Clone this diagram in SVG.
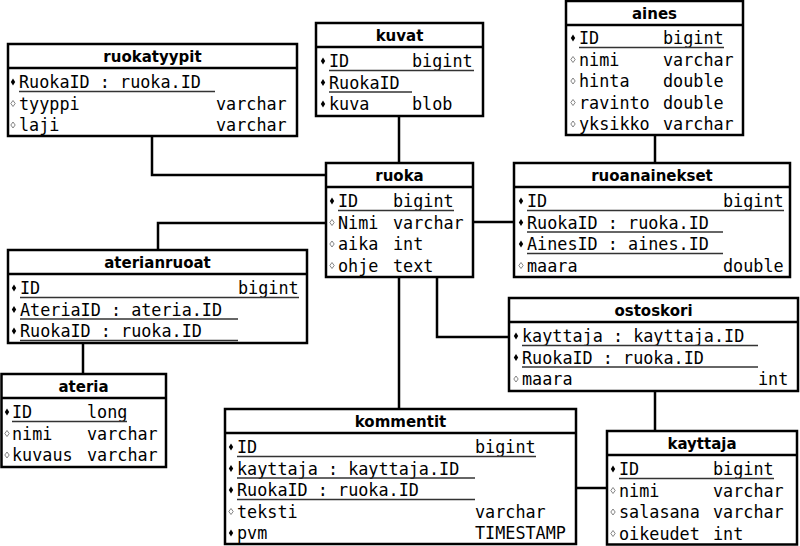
<svg xmlns="http://www.w3.org/2000/svg" xmlns:xlink="http://www.w3.org/1999/xlink" width="800" height="546" viewBox="0 0 800 546">
<style>
.box{fill:#fff;stroke:#000;stroke-width:2.5}
.hdr{stroke:#000;stroke-width:2.5}
.t{font-family:"DejaVu Sans",sans-serif;font-weight:bold;font-size:15px;text-anchor:middle;fill:#000}
.m{font-family:"DejaVu Sans Mono","Liberation Mono",monospace;font-size:16.8px;fill:#000}
.u{stroke:#333;stroke-width:1.5}
.c{fill:none;stroke:#000;stroke-width:2.5}
</style>
<defs>
<polygon id="pk" points="0,-3.5 2.2,0 0,3.5 -2.2,0" fill="#000"/>
<polygon id="at" points="0,-3 2.2,0 0,3 -2.2,0" fill="#fff" stroke="#777" stroke-width="0.9"/>
</defs>
<rect width="800" height="546" fill="#fff"/>
<g id="connectors">
<polyline class="c" points="152,136 152,175 326,175"/>
<line class="c" x1="399" y1="116" x2="399" y2="163"/>
<line class="c" x1="655" y1="135" x2="655" y2="163"/>
<line class="c" x1="473" y1="222" x2="514" y2="222"/>
<polyline class="c" points="158,250 158,223 326,223"/>
<line class="c" x1="83" y1="343" x2="83" y2="374"/>
<line class="c" x1="399" y1="277" x2="399" y2="409"/>
<polyline class="c" points="437,277 437,337 509,337"/>
<line class="c" x1="655" y1="391" x2="655" y2="431"/>
<line class="c" x1="576" y1="488" x2="607" y2="488"/>
</g>
<g id="ruokatyypit">
<rect class="box" x="8" y="44" width="289" height="92"/>
<line class="hdr" x1="8" y1="68" x2="297" y2="68"/>
<text class="t" x="152.5" y="62">ruokatyypit</text>
<use href="#pk" x="13" y="82"/><text class="m" x="19" y="88">RuokaID : ruoka.ID</text><line class="u" x1="19" y1="91.5" x2="215" y2="91.5"/>
<use href="#at" x="13" y="103.5"/><text class="m" x="19" y="109.5">tyyppi</text><text class="m" x="216" y="109.5">varchar</text>
<use href="#at" x="13" y="125"/><text class="m" x="19" y="131">laji</text><text class="m" x="216" y="131">varchar</text>
</g>
<g id="kuvat">
<rect class="box" x="316" y="23" width="167" height="93"/>
<line class="hdr" x1="316" y1="47" x2="483" y2="47"/>
<text class="t" x="399.5" y="41">kuvat</text>
<use href="#pk" x="323" y="61"/><text class="m" x="329" y="67">ID</text><text class="m" x="412" y="67">bigint</text><line class="u" x1="329" y1="70.5" x2="474" y2="70.5"/>
<use href="#pk" x="323" y="82.5"/><text class="m" x="329" y="88.5">RuokaID</text><line class="u" x1="329" y1="92" x2="412" y2="92"/>
<use href="#pk" x="323" y="104"/><text class="m" x="329" y="110">kuva</text><text class="m" x="412" y="110">blob</text>
</g>
<g id="aines">
<rect class="box" x="566" y="1" width="177" height="134"/>
<line class="hdr" x1="566" y1="25" x2="743" y2="25"/>
<text class="t" x="654.5" y="19">aines</text>
<use href="#pk" x="573" y="38"/><text class="m" x="579" y="44">ID</text><text class="m" x="663" y="44">bigint</text><line class="u" x1="579" y1="47.5" x2="724" y2="47.5"/>
<use href="#at" x="573" y="59.5"/><text class="m" x="579" y="65.5">nimi</text><text class="m" x="663" y="65.5">varchar</text>
<use href="#at" x="573" y="81"/><text class="m" x="579" y="87">hinta</text><text class="m" x="663" y="87">double</text>
<use href="#at" x="573" y="102.5"/><text class="m" x="579" y="108.5">ravinto</text><text class="m" x="663" y="108.5">double</text>
<use href="#at" x="573" y="124"/><text class="m" x="579" y="130">yksikko</text><text class="m" x="663" y="130">varchar</text>
</g>
<g id="ruoka">
<rect class="box" x="326" y="163" width="147" height="114"/>
<line class="hdr" x1="326" y1="187" x2="473" y2="187"/>
<text class="t" x="399.5" y="181">ruoka</text>
<use href="#pk" x="332" y="201"/><text class="m" x="338" y="207">ID</text><text class="m" x="393" y="207">bigint</text><line class="u" x1="338" y1="210.5" x2="454" y2="210.5"/>
<use href="#at" x="332" y="222.5"/><text class="m" x="338" y="228.5">Nimi</text><text class="m" x="393" y="228.5">varchar</text>
<use href="#at" x="332" y="244"/><text class="m" x="338" y="250">aika</text><text class="m" x="393" y="250">int</text>
<use href="#at" x="332" y="265.5"/><text class="m" x="338" y="271.5">ohje</text><text class="m" x="393" y="271.5">text</text>
</g>
<g id="ruoanainekset">
<rect class="box" x="514" y="163" width="276" height="114"/>
<line class="hdr" x1="514" y1="187" x2="790" y2="187"/>
<text class="t" x="652" y="181">ruoanainekset</text>
<use href="#pk" x="521" y="201"/><text class="m" x="527" y="207">ID</text><text class="m" x="723" y="207">bigint</text><line class="u" x1="527" y1="210.5" x2="784" y2="210.5"/>
<use href="#pk" x="521" y="222.5"/><text class="m" x="527" y="228.5">RuokaID : ruoka.ID</text><line class="u" x1="527" y1="232" x2="723" y2="232"/>
<use href="#pk" x="521" y="244"/><text class="m" x="527" y="250">AinesID : aines.ID</text><line class="u" x1="527" y1="253.5" x2="723" y2="253.5"/>
<use href="#at" x="521" y="265.5"/><text class="m" x="527" y="271.5">maara</text><text class="m" x="723" y="271.5">double</text>
</g>
<g id="aterianruoat">
<rect class="box" x="8" y="250" width="299" height="93"/>
<line class="hdr" x1="8" y1="274" x2="307" y2="274"/>
<text class="t" x="157.5" y="268">aterianruoat</text>
<use href="#pk" x="14" y="288"/><text class="m" x="20" y="294">ID</text><text class="m" x="238" y="294">bigint</text><line class="u" x1="20" y1="297.5" x2="299" y2="297.5"/>
<use href="#pk" x="14" y="309.5"/><text class="m" x="20" y="315.5">AteriaID : ateria.ID</text><line class="u" x1="20" y1="319" x2="238" y2="319"/>
<use href="#pk" x="14" y="331"/><text class="m" x="20" y="337">RuokaID : ruoka.ID</text><line class="u" x1="20" y1="340.5" x2="238" y2="340.5"/>
</g>
<g id="ateria">
<rect class="box" x="1.5" y="374" width="164.5" height="93"/>
<line class="hdr" x1="1.5" y1="398" x2="166" y2="398"/>
<text class="t" x="83.5" y="392">ateria</text>
<use href="#pk" x="7" y="412"/><text class="m" x="12" y="418">ID</text><text class="m" x="87" y="418">long</text><line class="u" x1="12" y1="421.5" x2="127" y2="421.5"/>
<use href="#at" x="7" y="433.5"/><text class="m" x="12" y="439.5">nimi</text><text class="m" x="87" y="439.5">varchar</text>
<use href="#at" x="7" y="455"/><text class="m" x="12" y="461">kuvaus</text><text class="m" x="87" y="461">varchar</text>
</g>
<g id="ostoskori">
<rect class="box" x="509" y="298" width="289" height="93"/>
<line class="hdr" x1="509" y1="322" x2="798" y2="322"/>
<text class="t" x="653.5" y="316">ostoskori</text>
<use href="#pk" x="516" y="336"/><text class="m" x="522" y="342">kayttaja : kayttaja.ID</text><line class="u" x1="522" y1="345.5" x2="758" y2="345.5"/>
<use href="#pk" x="516" y="357.5"/><text class="m" x="522" y="363.5">RuokaID : ruoka.ID</text><line class="u" x1="522" y1="367" x2="758" y2="367"/>
<use href="#at" x="516" y="379"/><text class="m" x="522" y="385">maara</text><text class="m" x="758" y="385">int</text>
</g>
<g id="kommentit">
<rect class="box" x="225" y="409" width="351" height="135"/>
<line class="hdr" x1="225" y1="433" x2="576" y2="433"/>
<text class="t" x="400.5" y="427">kommentit</text>
<use href="#pk" x="231" y="447"/><text class="m" x="237" y="453">ID</text><text class="m" x="475" y="453">bigint</text><line class="u" x1="237" y1="456.5" x2="536" y2="456.5"/>
<use href="#pk" x="231" y="468.5"/><text class="m" x="237" y="474.5">kayttaja : kayttaja.ID</text><line class="u" x1="237" y1="478" x2="475" y2="478"/>
<use href="#pk" x="231" y="490"/><text class="m" x="237" y="496">RuokaID : ruoka.ID</text><line class="u" x1="237" y1="499.5" x2="475" y2="499.5"/>
<use href="#at" x="231" y="511.5"/><text class="m" x="237" y="517.5">teksti</text><text class="m" x="475" y="517.5">varchar</text>
<use href="#pk" x="231" y="533"/><text class="m" x="237" y="539">pvm</text><text class="m" x="475" y="539">TIMESTAMP</text>
</g>
<g id="kayttaja">
<rect class="box" x="607" y="431" width="190" height="113.5"/>
<line class="hdr" x1="607" y1="455" x2="797" y2="455"/>
<text class="t" x="702" y="449">kayttaja</text>
<use href="#pk" x="613" y="469"/><text class="m" x="619" y="475">ID</text><text class="m" x="713" y="475">bigint</text><line class="u" x1="619" y1="478.5" x2="774" y2="478.5"/>
<use href="#at" x="613" y="490.5"/><text class="m" x="619" y="496.5">nimi</text><text class="m" x="713" y="496.5">varchar</text>
<use href="#at" x="613" y="512"/><text class="m" x="619" y="518">salasana</text><text class="m" x="713" y="518">varchar</text>
<use href="#at" x="613" y="533.5"/><text class="m" x="619" y="539.5">oikeudet</text><text class="m" x="713" y="539.5">int</text>
</g>
</svg>
